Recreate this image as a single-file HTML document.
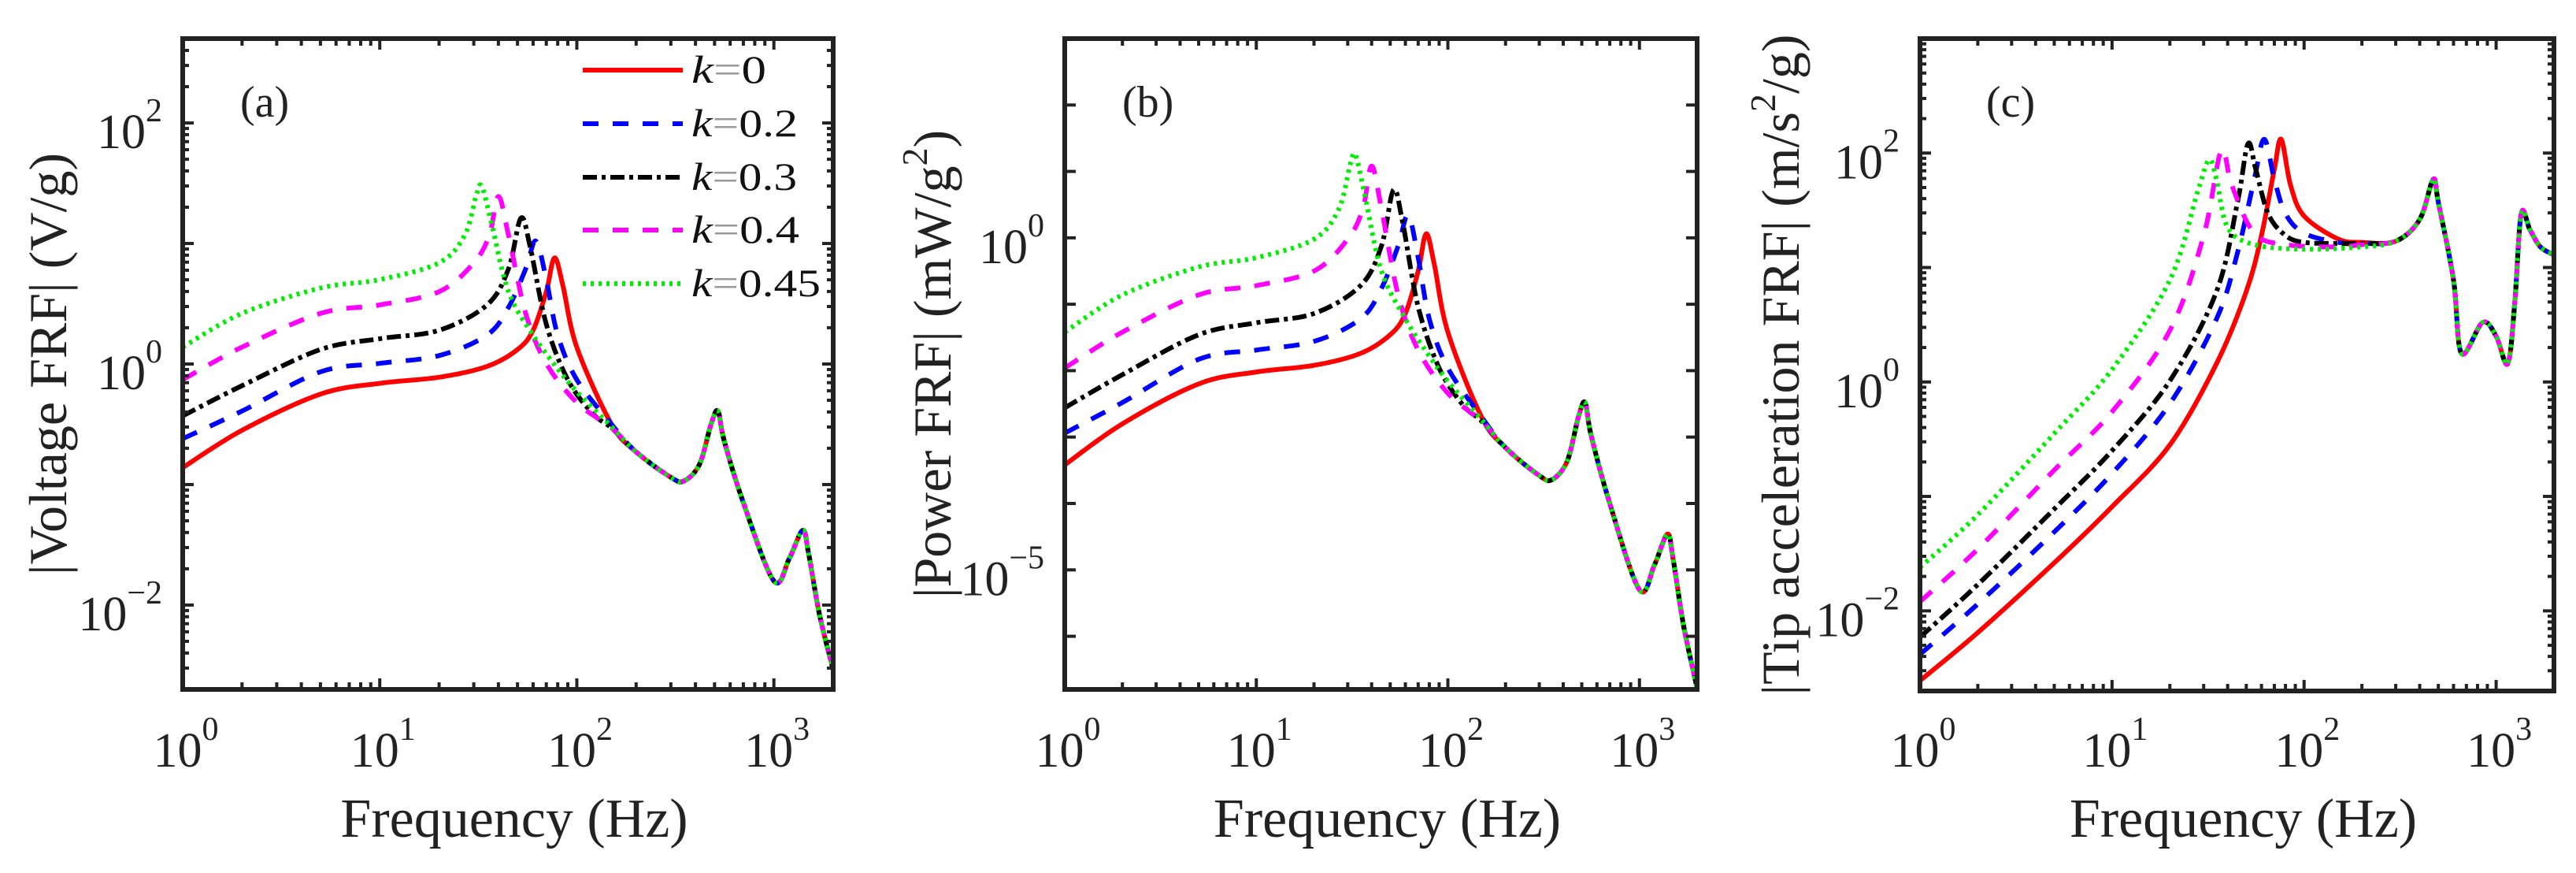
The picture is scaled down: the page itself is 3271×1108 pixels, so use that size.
<!DOCTYPE html>
<html><head><meta charset="utf-8"><style>
html,body{margin:0;padding:0;background:#fff;}
svg{display:block;font-family:"Liberation Serif",serif;}
</style></head><body>
<svg id="fig" width="3271" height="1108" viewBox="0 0 3271 1108" xmlns="http://www.w3.org/2000/svg"></svg>
<script>
// ---------- DATA (log10 values) ----------
const tailF  = [200,300,350,420,480,520,560,700,1000,1200,1400,1500,1700,2000];
const tailA  = [-0.73,-0.94,-0.97,-0.83,-0.5,-0.39,-0.64,-1.15,-1.80,-1.61,-1.38,-1.57,-2.07,-2.54];
const tailB  = [-3.16,-3.58,-3.64,-3.36,-2.70,-2.48,-2.98,-4.00,-5.30,-4.92,-4.46,-4.84,-5.84,-6.78];

const redF   = [1,2,5,10,20,35,50,60,70,77,85,100,150];
const redA   = [-0.86,-0.55,-0.25,-0.16,-0.11,-0.02,0.12,0.28,0.6,0.88,0.65,0.14,-0.5];
const redB   = [-3.42,-2.80,-2.20,-2.02,-1.92,-1.74,-1.46,-1.14,-0.50,0.06,-0.40,-1.42,-2.70];
const blueF  = [1,2,5,10,20,35,45,55,62,70,80,100,150];
const blueA  = [-0.62,-0.39,-0.065,0.005,0.07,0.24,0.47,0.79,1.02,0.70,0.24,-0.13,-0.5];
const blueB  = [-2.94,-2.48,-1.83,-1.69,-1.56,-1.22,-0.76,-0.12,0.34,-0.30,-1.22,-1.96,-2.70];
const blackF = [1,2,5,10,20,35,45,52,58,70,90,120,150];
const blackA = [-0.43,-0.18,0.12,0.21,0.28,0.49,0.79,1.21,0.97,0.33,-0.13,-0.41,-0.53];
const blackB = [-2.56,-2.06,-1.46,-1.28,-1.14,-0.72,-0.12,0.72,0.24,-1.04,-1.96,-2.52,-2.76];
const magF   = [1,2,5,10,20,30,36,40,45,55,70,100,150];
const magA   = [-0.13,0.14,0.42,0.49,0.6,0.84,1.07,1.39,1.07,0.42,0.005,-0.32,-0.53];
const magB   = [-1.96,-1.42,-0.86,-0.72,-0.50,-0.02,0.44,1.08,0.44,-0.86,-1.69,-2.34,-2.76];
const greenF = [1,2,5,10,20,27,31,33,37,45,60,80,100,150];
const greenA = [0.14,0.42,0.63,0.70,0.84,1.07,1.41,1.47,1.16,0.60,0.24,-0.04,-0.23,-0.52];
const greenB = [-1.42,-0.86,-0.44,-0.30,-0.02,0.44,1.12,1.24,0.62,-0.50,-1.22,-1.78,-2.16,-2.74];

const tailCF = [300,400,470,500,600,660,850,1000,1150,1250,1350,1500,1700,2000];
const tailC  = [1.23,1.42,1.77,1.57,0.89,0.25,0.52,0.40,0.16,0.69,1.47,1.33,1.18,1.11];
const redCF   = [1,2,5,10,20,35,50,60,70,76,85,100,150,200];
const redC    = [-2.61,-2.19,-1.58,-1.09,-0.55,0.16,0.79,1.28,1.86,2.12,1.72,1.45,1.25,1.22];
const blueCF  = [1,2,5,10,20,35,45,55,62,70,80,100,150,200];
const blueC   = [-2.38,-1.94,-1.31,-0.80,-0.19,0.55,1.13,1.77,2.12,1.77,1.47,1.30,1.22,1.21];
const blackCF = [1,2,5,10,20,35,45,51,56,65,80,100,150,200];
const blackC  = [-2.23,-1.77,-1.11,-0.60,0.01,0.79,1.57,2.08,1.86,1.47,1.28,1.22,1.21,1.21];
const magCF   = [1,2,5,10,20,30,37,42,55,80,150,200];
const magC    = [-1.92,-1.46,-0.77,-0.26,0.45,1.28,2.02,1.72,1.30,1.20,1.18,1.20];
const greenCF = [1,2,5,10,20,28,32,35,40,55,100,200];
const greenC  = [-1.62,-1.16,-0.45,0.11,0.89,1.67,1.94,1.77,1.35,1.20,1.16,1.18];

const seriesNames = ["k0","k02","k03","k04","k045"];
const legendLabels = ["0","0.2","0.3","0.4","0.45"];
const xTickExp = [0,1,2,3];

// ---------- STYLE ----------
const styles = {
  k0:{c:"#ff0000",d:"none"},
  k02:{c:"#0000ff",d:"20 18"},
  k03:{c:"#000000",d:"18 6 5 6"},
  k04:{c:"#ff00ff",d:"20 18"},
  k045:{c:"#00ee00",d:"4 6"}
};
const NS="http://www.w3.org/2000/svg";
const svg=document.getElementById("fig");
function mk(tag,attrs,parent){const e=document.createElementNS(NS,tag);for(const k in attrs)e.setAttribute(k,attrs[k]);(parent||svg).appendChild(e);return e;}
function smoothPath(pts){
  let d="M"+pts[0][0].toFixed(1)+","+pts[0][1].toFixed(1);
  const t=0.5/3;
  for(let i=0;i<pts.length-1;i++){
    const p0=pts[Math.max(0,i-1)],p1=pts[i],p2=pts[i+1],p3=pts[Math.min(pts.length-1,i+2)];
    const c1x=p1[0]+(p2[0]-p0[0])*t*2*0.5*2/2, c1y=p1[1]+(p2[1]-p0[1])*t;
    const c2x=p2[0]-(p3[0]-p1[0])*t, c2y=p2[1]-(p3[1]-p1[1])*t;
    d+="C"+(p1[0]+(p2[0]-p0[0])*t).toFixed(1)+","+c1y.toFixed(1)+" "+c2x.toFixed(1)+","+c2y.toFixed(1)+" "+p2[0].toFixed(1)+","+p2[1].toFixed(1);
  }
  return d;
}

const panels=[
 {id:"a",x0:232,x1:1058,y0:49,y1:875,ymin:-2.7,ymax:2.7,yt:[2,0,-2],minorY:true,label:"(a)",lx:305,
  ylab:["|Voltage FRF| (V/g)",null,""],ylx:62,
  data:[[redF.concat(tailF),redA.concat(tailA)],[blueF.concat(tailF),blueA.concat(tailA)],[blackF.concat(tailF),blackA.concat(tailA)],[magF.concat(tailF),magA.concat(tailA)],[greenF.concat(tailF),greenA.concat(tailA)]]},
 {id:"b",x0:1352,x1:2155,y0:49,y1:875,ymin:-6.8,ymax:3,yt:[0,-5],minorY:false,label:"(b)",lx:1425,
  ylab:["|Power FRF| (mW/g","2",")"],ylx:1185,
  data:[[redF.concat(tailF),redB.concat(tailB)],[blueF.concat(tailF),blueB.concat(tailB)],[blackF.concat(tailF),blackB.concat(tailB)],[magF.concat(tailF),magB.concat(tailB)],[greenF.concat(tailF),greenB.concat(tailB)]]},
 {id:"c",x0:2438,x1:3243,y0:49,y1:877,ymin:-2.7,ymax:3,yt:[2,0,-2],minorY:true,label:"(c)",lx:2522,
  ylab:["|Tip acceleration FRF| (m/s","2","/g)"],ylx:2262,
  data:[[redCF.concat(tailCF),redC.concat(tailC)],[blueCF.concat(tailCF),blueC.concat(tailC)],[blackCF.concat(tailCF),blackC.concat(tailC)],[magCF.concat(tailCF),magC.concat(tailC)],[greenCF.concat(tailCF),greenC.concat(tailC)]]}
];
const XMAXLOG=Math.log10(2000);

panels.forEach(p=>{
  const g=mk("g",{});
  
  
  const X=f=>p.x0+Math.log10(f)/XMAXLOG*(p.x1-p.x0);
  const Y=l=>p.y1-(l-p.ymin)/(p.ymax-p.ymin)*(p.y1-p.y0);
  const cp=mk("clipPath",{id:"clip"+p.id},g);
  mk("rect",{x:p.x0,y:p.y0,width:p.x1-p.x0,height:p.y1-p.y0},cp);
  const sg=mk("g",{"clip-path":"url(#clip"+p.id+")"},g);
  p.data.forEach((s,i)=>{
    const st=styles[seriesNames[i]];
    const pts=s[0].map((f,j)=>[X(f),Y(s[1][j])]);
    const path=mk("path",{d:smoothPath(pts),fill:"none",stroke:st.c,"stroke-width":6,"stroke-dasharray":st.d,"stroke-linejoin":"round"},sg);
    
    
  });
  const tk=mk("g",{stroke:"#222","stroke-width":4},g);
  
  
  for(let e=0;e<=3;e++){for(let m=1;m<=9;m++){const f=m*Math.pow(10,e);if(f>2000)break;const x=X(f);const L=m===1?14:9;
    mk("line",{x1:x,x2:x,y1:p.y1,y2:p.y1-L},tk);mk("line",{x1:x,x2:x,y1:p.y0,y2:p.y0+L},tk);}}
  for(let e=Math.floor(p.ymin);e<=p.ymax;e++){
    const subs=p.minorY?[1,2,3,4,5,6,7,8,9]:[1];
    subs.forEach(m=>{const l=e+Math.log10(m);if(l>p.ymax||l<p.ymin)return;const y=Y(l);const L=m===1?14:8;
      mk("line",{x1:p.x0,x2:p.x0+L,y1:y,y2:y},tk);mk("line",{x1:p.x1,x2:p.x1-L,y1:y,y2:y},tk);});
  }
  const fr=mk("rect",{x:p.x0,y:p.y0,width:p.x1-p.x0,height:p.y1-p.y0,fill:"none",stroke:"#222","stroke-width":6},g);
  
  
  xTickExp.forEach(e=>{
    const t=mk("text",{x:X(Math.pow(10,e))+4,y:973,"font-size":62,"text-anchor":"middle",fill:"#222"},g);
    
    
    t.appendChild(document.createTextNode("10"));
    const s=mk("tspan",{dy:-34,"font-size":42},t);s.textContent=String(e);
  });
  p.yt.forEach(e=>{
    const t=mk("text",{x:p.x0-26,y:Y(e)+32,"font-size":62,"text-anchor":"end",fill:"#222"},g);
    
    
    t.appendChild(document.createTextNode("10"));
    const s=mk("tspan",{dy:-34,"font-size":42},t);s.textContent=(e<0?"\u2212":"")+Math.abs(e);
  });
  const xt=mk("text",{x:(p.x0+p.x1)/2+8,y:1062,"font-size":70,"text-anchor":"middle",fill:"#222"},g);
  
  
  xt.textContent="Frequency (Hz)";
  const cy=(p.y0+p.y1)/2;
  const yt=mk("text",{x:0,y:0,"font-size":68,"text-anchor":"middle",fill:"#222",transform:"translate("+(p.ylx+22)+","+cy+") rotate(-90)"},g);
  
  
  yt.appendChild(document.createTextNode(p.ylab[0]));
  if(p.ylab[1]){const s=mk("tspan",{dy:-30,"font-size":46},yt);s.textContent=p.ylab[1];
    const s2=mk("tspan",{dy:30},yt);s2.textContent=p.ylab[2];}
  const pl=mk("text",{x:p.lx,y:148,"font-size":56,fill:"#222"},g);
  
  
  pl.textContent=p.label;
});

const legRows=[89,157,225,292,360];
const legWidths=[95,135,134,137,164];
const lg=mk("g",{});


seriesNames.forEach((n,i)=>{
  const st=styles[n];
  const ln=mk("line",{x1:740,x2:867,y1:legRows[i],y2:legRows[i],stroke:st.c,"stroke-width":6,"stroke-dasharray":st.d},lg);
  
  
  const t=mk("text",{x:878,y:legRows[i]+16,"font-size":50,fill:"#111",textLength:legWidths[i],lengthAdjust:"spacingAndGlyphs"},lg);
  
  
  const k=mk("tspan",{"font-style":"italic"},t);k.textContent="k";
  const eq=mk("tspan",{fill:"#999"},t);eq.textContent="=";
  const v=mk("tspan",{},t);v.textContent=legendLabels[i];
});
</script>
</body></html>
